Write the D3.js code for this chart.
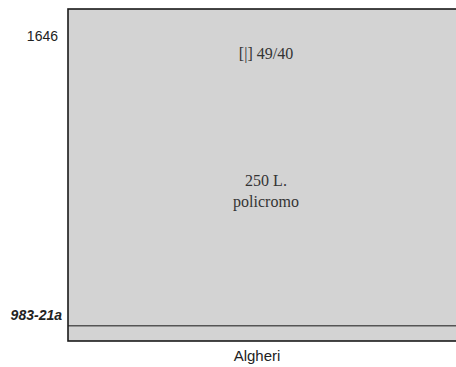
<!DOCTYPE html>
<html>
<head>
<meta charset="utf-8">
<script src="https://cdn.jsdelivr.net/npm/d3@7"></script>
<style>
  body { margin: 0; background: #fff; }
</style>
</head>
<body>
<svg id="chart" width="456" height="367"></svg>
<script>

// categories on the x axis
var categories = ["Algheri"]

// stacked segments of the single bar (bottom first)
var segmentNames = ["base", "main"]
var segmentValues = [4.6, 95.4]

// y tick labels and where they sit on the value axis
var yTickLabels = ["1646", "983-21a"]
var yTickValues = [91.6, 7.5]

// text written inside the big segment
var insideLines = ["[|] 49/40", "250 L.", "policromo"]
var insideValues = [86.1, 47.9, 41.6]

var SVG = d3.select("#chart")

var x = d3.scaleBand()
  .domain(categories)
  .range([68, 464])
  .padding(0)

var y = d3.scaleLinear()
  .domain([0, 100])
  .range([341, 9])

// build the stack from the arrays
var stacked = []
var acc = 0
segmentValues.forEach(function(v, i){
  stacked.push({name: segmentNames[i], y0: acc, y1: acc + v})
  acc += v
})

// filled segments
SVG.selectAll("mysegments")
  .data(stacked)
  .enter()
  .append("rect")
    .attr("x", x(categories[0]))
    .attr("y", function(d){ return y(d.y1) })
    .attr("width", x.bandwidth())
    .attr("height", function(d){ return y(d.y0) - y(d.y1) })
    .style("fill", "#d3d3d3")

// divider between segments
SVG.selectAll("mydividers")
  .data(stacked.slice(1))
  .enter()
  .append("line")
    .attr("x1", x(categories[0]))
    .attr("x2", x(categories[0]) + x.bandwidth())
    .attr("y1", function(d){ return y(d.y0) })
    .attr("y2", function(d){ return y(d.y0) })
    .style("stroke", "#555")
    .style("stroke-width", 1.6)

// outer frame
SVG.append("rect")
  .attr("x", x(categories[0]))
  .attr("y", y(100))
  .attr("width", x.bandwidth())
  .attr("height", y(0) - y(100))
  .style("fill", "none")
  .style("stroke", "#1a1a1a")
  .style("stroke-width", 1.6)

// y labels (no tick marks)
SVG.selectAll("myylabels")
  .data(yTickLabels)
  .enter()
  .append("text")
    .attr("x", function(d, i){ return i == 0 ? 58 : 62 })
    .attr("y", function(d, i){ return y(yTickValues[i]) })
    .attr("text-anchor", "end")
    .attr("dominant-baseline", "middle")
    .style("font-family", "Liberation Sans, Arial, sans-serif")
    .style("font-size", "14px")
    .style("font-weight", function(d, i){ return i == 1 ? "bold" : "normal" })
    .style("font-style", function(d, i){ return i == 1 ? "italic" : "normal" })
    .style("fill", "#222")
    .text(function(d){ return d })

// text inside the bar
SVG.selectAll("myinside")
  .data(insideLines)
  .enter()
  .append("text")
    .attr("x", x(categories[0]) + x.bandwidth()/2)
    .attr("y", function(d, i){ return y(insideValues[i]) })
    .attr("text-anchor", "middle")
    .attr("dominant-baseline", "middle")
    .style("font-family", "Liberation Serif, Times New Roman, serif")
    .style("font-size", "16px")
    .style("fill", "#333")
    .text(function(d){ return d })

// x category label, centred on the visible part of the bar
SVG.selectAll("myxlabels")
  .data(categories)
  .enter()
  .append("text")
    .attr("x", function(d){ return (x(d) + 446) / 2 })
    .attr("y", 357)
    .attr("text-anchor", "middle")
    .attr("dominant-baseline", "middle")
    .style("font-family", "Liberation Sans, Arial, sans-serif")
    .style("font-size", "15px")
    .style("fill", "#222")
    .text(function(d){ return d })

</script>
</body>
</html>
